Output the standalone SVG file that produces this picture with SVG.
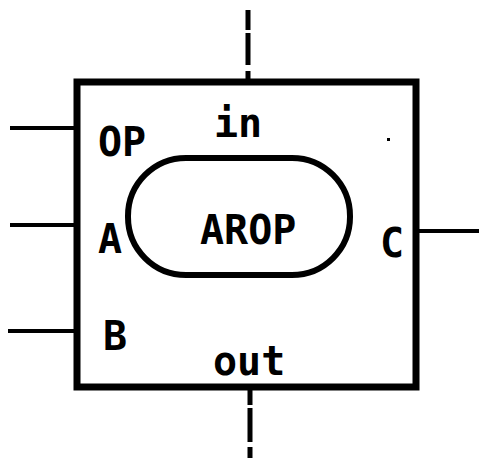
<svg xmlns="http://www.w3.org/2000/svg" width="480" height="459" viewBox="0 0 480 459">
<style>
.t{font-family:"DejaVu Sans Mono","Liberation Mono",monospace;font-weight:bold;fill:#000}
.c{stroke:#000;stroke-width:4;fill:none}
.d{stroke:#000;stroke-width:5;fill:none}
</style>
<rect width="480" height="459" fill="#fff"/>
<g id="connectors">
<line class="c" x1="10" y1="128" x2="78" y2="128"/>
<line class="c" x1="10" y1="225" x2="78" y2="225"/>
<line class="c" x1="8" y1="331" x2="78" y2="331"/>
<line class="c" x1="416" y1="231" x2="479" y2="231"/>
<path class="d" d="M248 10V30M248 33V65M248 71V82"/>
<path class="d" d="M250 389V405M250 408V442M250 447V458"/>
</g>
<g id="block">
<rect x="77" y="82" width="339" height="305" fill="none" stroke="#000" stroke-width="7"/>
<text class="t" x="98" y="156" font-size="40">OP</text>
<text class="t" x="214" y="137" font-size="40">in</text>
<text class="t" x="98" y="253" font-size="40">A</text>
<text class="t" x="380" y="257" font-size="40">C</text>
<text class="t" x="103" y="350" font-size="40">B</text>
<text class="t" x="213" y="375" font-size="40">out</text>
<rect x="387" y="138" width="3" height="3" fill="#000"/>
</g>
<g id="arop">
<rect x="128" y="158" width="222" height="117" rx="58" ry="58" fill="none" stroke="#000" stroke-width="6"/>
<text class="t" x="200" y="244" font-size="40">AROP</text>
</g>
</svg>
